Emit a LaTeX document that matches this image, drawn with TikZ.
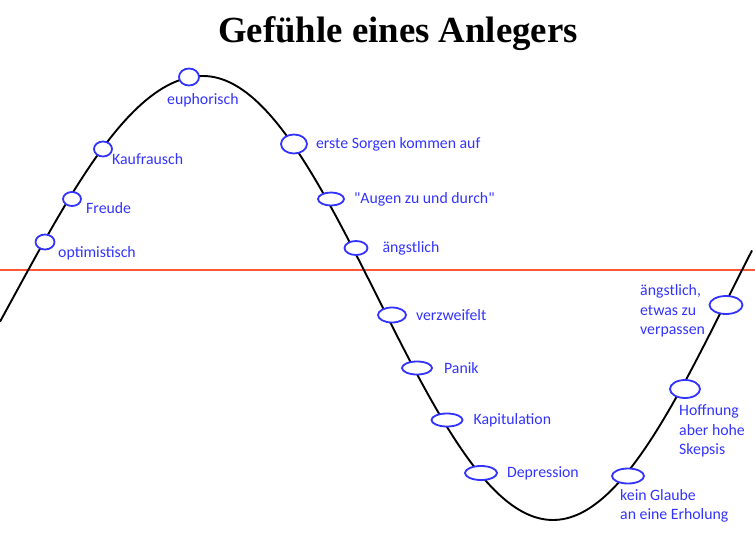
\documentclass[tikz,border=0pt]{standalone}
\usepackage{fontspec}
\setmainfont{Carlito}[Ligatures=TeXOff]
\newfontfamily\titlefont{Liberation Serif}
\usepackage{tikz}
\usetikzlibrary{positioning,shapes}
\definecolor{moodblue}{RGB}{51,51,255}
\definecolor{zeroline}{RGB}{255,88,50}

\begin{document}
\begin{tikzpicture}
  [
      x=1pt, y=-1pt,
      mood/.style={ellipse, draw=moodblue, line width=1.8pt, fill=white, inner sep=0pt, minimum width=#1},
      mood/.default=20pt,
      feel/.style={text=moodblue, inner sep=0pt, font=\fontsize{15.8}{19.5}\selectfont, align=left},
      curve/.style={line width=1.9pt, line join=round},
    ]
    \useasboundingbox (0,0) rectangle (755,541);

    \node (title) [anchor=base, font=\titlefont\bfseries\fontsize{36.8}{40}\selectfont] at (398,42) {Gefühle eines Anlegers};
    \draw [zeroline, line width=1.7pt] (0,270) coordinate (z0) -- (755,270) coordinate (z1);
    % Kurs: linke Flanke breiter als der Rest
    \draw [curve] plot[domain=0:203, samples=60] (\x, {298-222*cos((\x-203)/121*57.296)})
      -- plot[domain=203:752, samples=140] (\x, {298-222*cos((\x-203)/111.4*57.296)});

    \node (opt)   [mood=19pt, minimum height=15pt] at (45,242) {};
    \node (freu)  [mood=18pt, minimum height=14pt] at (72,199) {};
    \node (kauf)  [mood=18pt, minimum height=15pt] at (103,149) {};
    \node (eupho) [mood=20pt, minimum height=17pt] at (189,77) {};
    \node (sorg)  [mood=26pt, minimum height=19pt] at (294,144) {};
    \node (augen) [mood=26pt, minimum height=13pt] at (331,199) {};
    \node (angst) [mood=23pt, minimum height=14pt] at (356,248) {};
    \node (verz)  [mood=28pt, minimum height=15pt] at (392,315) {};
    \node (panik) [mood=30pt, minimum height=13pt] at (417,368) {};
    \node (kapit) [mood=31pt, minimum height=13pt] at (447,420) {};
    \node (depr)  [mood=32pt, minimum height=14pt] at (481,473) {};
    \node (glaub) [mood=32pt, minimum height=15pt] at (628,476) {};
    \node (hoff)  [mood=30pt, minimum height=18pt] at (685,389) {};
    \node (fomo)  [mood=33pt, minimum height=18pt] at (726,305) {};

    \node (topt)   [feel, anchor=west] at (58,253) {optimistisch};
    \node (tfreu)  [feel, anchor=west] at (86,208) {Freude};
    \node (tkauf)  [feel, anchor=west] at (112,159) {Kaufrausch};
    \node (teupho) [feel, anchor=west] at (167,100) {euphorisch};
    \node (tsorg)  [feel, right=8pt of sorg] {erste Sorgen kommen auf};
    \node (taugen) [feel, right=9pt of augen] {"Augen zu und durch"};
    \node (tangst) [feel, right=14pt of angst] {ängstlich};
    \node (tverz)  [feel, right=9pt of verz] {verzweifelt};
    \node (tpanik) [feel, right=11pt of panik] {Panik};
    \node (tkapit) [feel, right=10pt of kapit] {Kapitulation};
    \node (tdepr)  [feel, right=9pt of depr] {Depression};
    \node (tglaub) [feel, anchor=west] at (620,506) {kein Glaube\\an eine Erholung};
    \node (thoff)  [feel, anchor=west] at (679,431) {Hoffnung\\aber hohe\\Skepsis};
    \node (tfomo)  [feel, anchor=west] at (640,311) {ängstlich,\\etwas zu\\verpassen};
  \end{tikzpicture}
\end{document}
